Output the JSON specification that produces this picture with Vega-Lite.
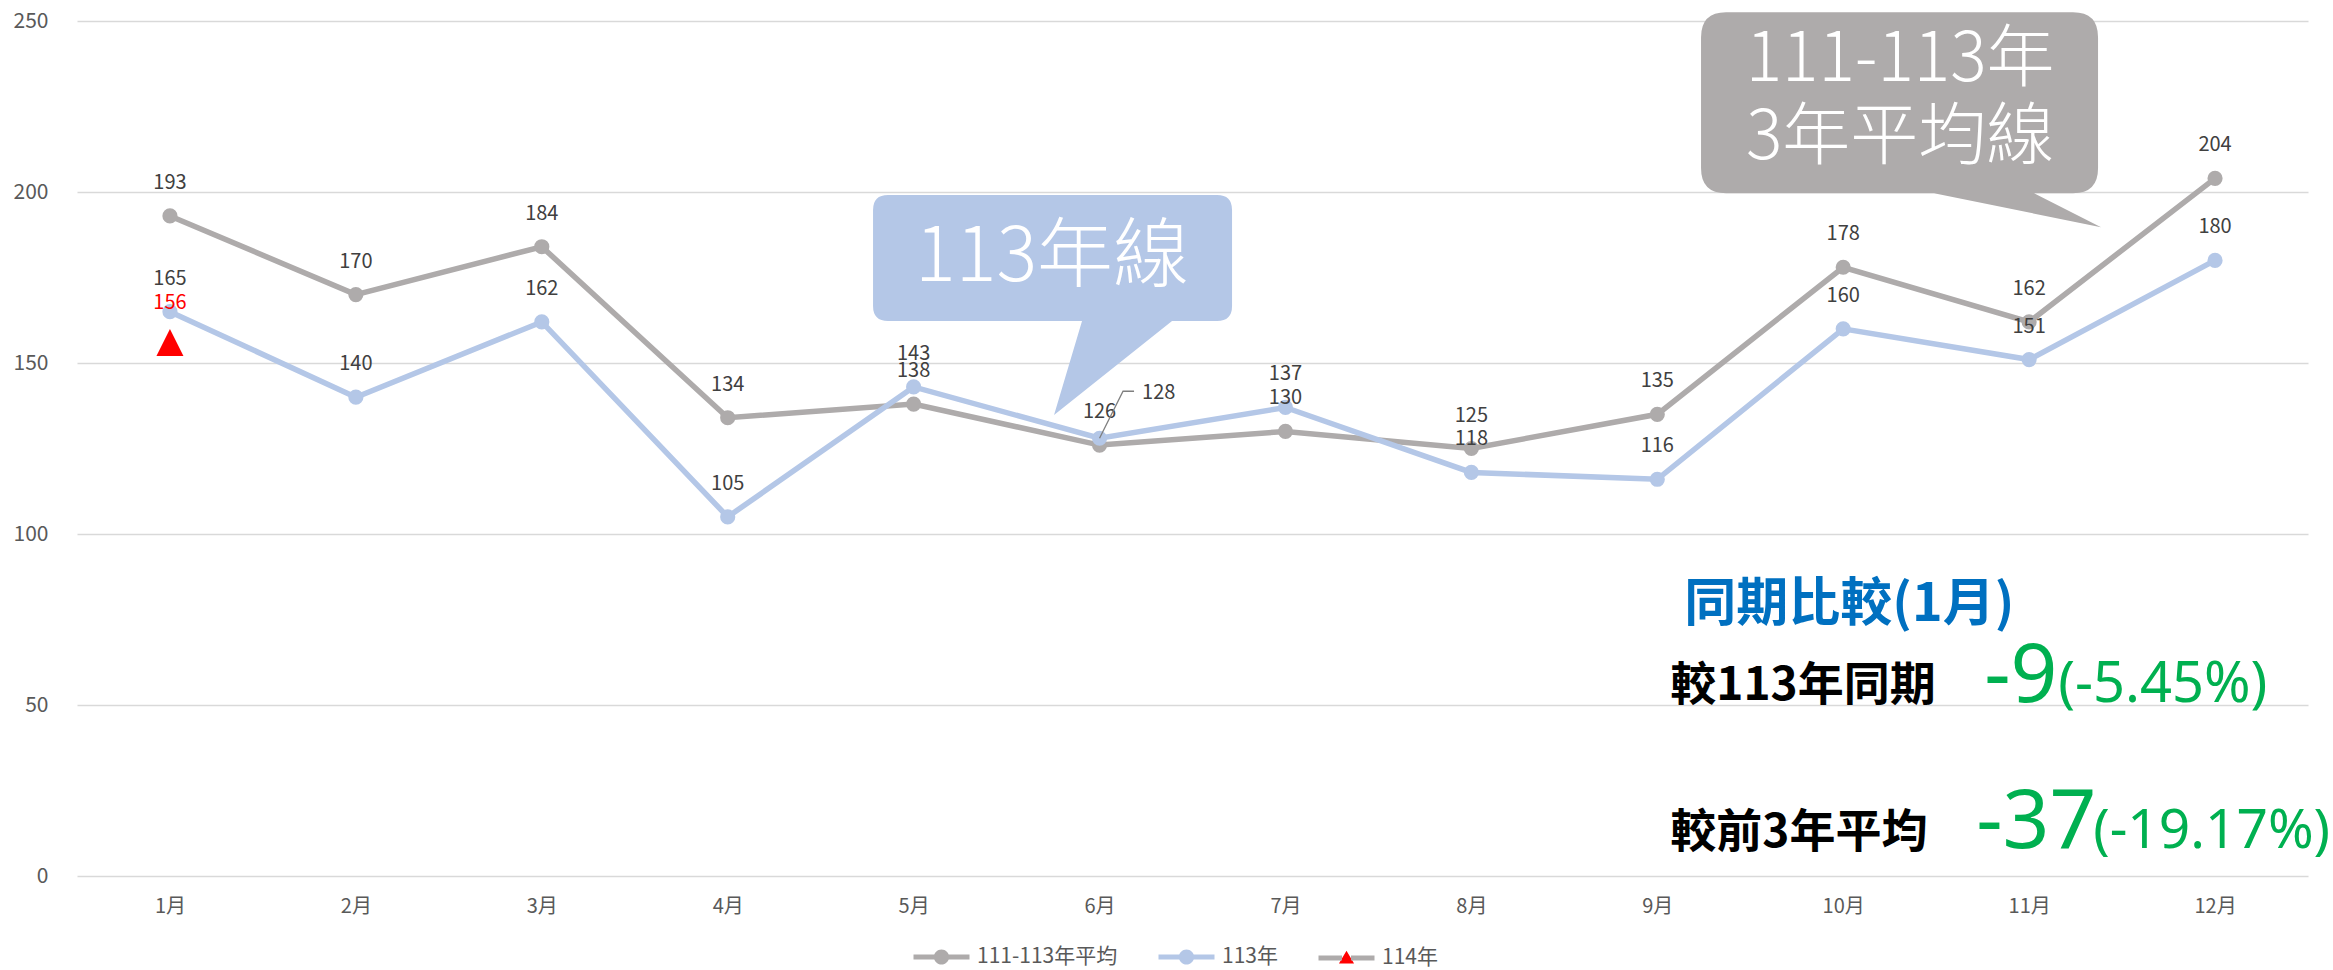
{
  "$schema": "https://vega.github.io/schema/vega-lite/v6.json",
  "width": 2231,
  "height": 855,
  "autosize": {"type": "none"},
  "padding": {"left": 77, "top": 21, "right": 25, "bottom": 94},
  "background": "white",
  "config": {"view": {"stroke": null}, "font": "Noto Sans CJK TC"},
  "datasets": {
    "monthly": [
      {"month": "1月", "series": "111-113年平均", "value": 193},
      {"month": "2月", "series": "111-113年平均", "value": 170},
      {"month": "3月", "series": "111-113年平均", "value": 184},
      {"month": "4月", "series": "111-113年平均", "value": 134},
      {"month": "5月", "series": "111-113年平均", "value": 138},
      {"month": "6月", "series": "111-113年平均", "value": 126},
      {"month": "7月", "series": "111-113年平均", "value": 130},
      {"month": "8月", "series": "111-113年平均", "value": 125},
      {"month": "9月", "series": "111-113年平均", "value": 135},
      {"month": "10月", "series": "111-113年平均", "value": 178},
      {"month": "11月", "series": "111-113年平均", "value": 162},
      {"month": "12月", "series": "111-113年平均", "value": 204},
      {"month": "1月", "series": "113年", "value": 165},
      {"month": "2月", "series": "113年", "value": 140},
      {"month": "3月", "series": "113年", "value": 162},
      {"month": "4月", "series": "113年", "value": 105},
      {"month": "5月", "series": "113年", "value": 143},
      {"month": "6月", "series": "113年", "value": 128},
      {"month": "7月", "series": "113年", "value": 137},
      {"month": "8月", "series": "113年", "value": 118},
      {"month": "9月", "series": "113年", "value": 116},
      {"month": "10月", "series": "113年", "value": 160},
      {"month": "11月", "series": "113年", "value": 151},
      {"month": "12月", "series": "113年", "value": 180},
      {"month": "1月", "series": "114年", "value": 156}
    ]
  },
  "layer": [
    {
      "data": {"name": "monthly"},
      "encoding": {
        "x": {
          "field": "month",
          "type": "ordinal",
          "sort": null,
          "scale": {"domain": ["1月", "2月", "3月", "4月", "5月", "6月", "7月", "8月", "9月", "10月", "11月", "12月"]},
          "axis": {"title": null, "labelAngle": 0, "domain": false, "ticks": false, "grid": false, "labelFontSize": 20, "labelColor": "#595959", "labelPadding": 20, "labelFont": "Noto Sans CJK TC"}
        },
        "y": {
          "field": "value",
          "type": "quantitative",
          "scale": {"domain": [0, 250], "nice": false},
          "axis": {"title": null, "domain": false, "ticks": false, "grid": true, "gridColor": "#D9D9D9", "gridWidth": 1.5, "values": [0, 50, 100, 150, 200, 250], "labelFontSize": 21, "labelColor": "#595959", "labelPadding": 29, "labelFont": "Noto Sans CJK TC"}
        }
      },
      "layer": [
        {
          "transform": [{"filter": "datum.series === '111-113年平均'"}],
          "mark": {"type": "line", "strokeWidth": 5.5},
          "encoding": {
            "stroke": {
              "field": "series",
              "type": "nominal",
              "scale": {"domain": ["111-113年平均", "113年", "114年"], "range": ["#AEABAB", "#B4C7E7", "#AEABAB"]},
              "legend": {
                "title": null,
                "orient": "none",
                "legendX": 834,
                "legendY": 905,
                "direction": "horizontal",
                "padding": 0,
                "symbolSize": 3136,
                "symbolStrokeWidth": 5,
                "symbolDash": [56, 2000],
                "symbolOpacity": 1,
                "symbolType": "M1,0L-1,0L1,0L0.27,0A0.27,0.27 0 1,0 -0.27,0A0.27,0.27 0 1,0 0.27,0L1,0Z",
                "labelFontSize": 21,
                "labelColor": "#595959",
                "labelFont": "Noto Sans CJK TC",
                "labelOffset": 5,
                "columnPadding": 30,
                "encode": {
                  "symbols": {
                    "update": {
                      "shape": {"signal": "datum.value === '114年' ? 'M1,0L-1,0L1,0L0.27,0.2L0,-0.26L-0.27,0.2L0.27,0.2L1,0Z' : 'M1,0L-1,0L1,0L0.27,0A0.27,0.27 0 1,0 -0.27,0A0.27,0.27 0 1,0 0.27,0L1,0Z'"},
                      "strokeDash": {"signal": "datum.value === '114年' ? [23.5, 9, 23.5, 2000] : [56, 2000]"},
                      "strokeWidth": {"value": 5},
                      "opacity": {"value": 1}
                    }
                  }
                }
              }
            }
          }
        },
        {
          "transform": [{"filter": "datum.series === '111-113年平均'"}],
          "mark": {"type": "point", "shape": "circle", "filled": true, "size": 230, "opacity": 1},
          "encoding": {
            "fill": {
              "field": "series",
              "type": "nominal",
              "scale": {"domain": ["111-113年平均", "113年", "114年"], "range": ["#AEABAB", "#B4C7E7", "#FF0000"]},
              "legend": {
                "title": null,
                "orient": "none",
                "legendX": 834,
                "legendY": 905,
                "direction": "horizontal",
                "padding": 0,
                "symbolSize": 3136,
                "symbolStrokeWidth": 5,
                "symbolDash": [56, 2000],
                "symbolOpacity": 1,
                "symbolType": "M1,0L-1,0L1,0L0.27,0A0.27,0.27 0 1,0 -0.27,0A0.27,0.27 0 1,0 0.27,0L1,0Z",
                "labelFontSize": 21,
                "labelColor": "#595959",
                "labelFont": "Noto Sans CJK TC",
                "labelOffset": 5,
                "columnPadding": 30,
                "encode": {
                  "symbols": {
                    "update": {
                      "shape": {"signal": "datum.value === '114年' ? 'M1,0L-1,0L1,0L0.27,0.2L0,-0.26L-0.27,0.2L0.27,0.2L1,0Z' : 'M1,0L-1,0L1,0L0.27,0A0.27,0.27 0 1,0 -0.27,0A0.27,0.27 0 1,0 0.27,0L1,0Z'"},
                      "strokeDash": {"signal": "datum.value === '114年' ? [23.5, 9, 23.5, 2000] : [56, 2000]"},
                      "strokeWidth": {"value": 5},
                      "opacity": {"value": 1}
                    }
                  }
                }
              }
            }
          }
        },
        {
          "transform": [{"filter": "datum.series === '113年'"}],
          "mark": {"type": "line", "strokeWidth": 5.5},
          "encoding": {"stroke": {"field": "series", "type": "nominal"}}
        },
        {
          "transform": [{"filter": "datum.series === '113年'"}],
          "mark": {"type": "point", "shape": "circle", "filled": true, "size": 230, "opacity": 1},
          "encoding": {"fill": {"field": "series", "type": "nominal"}}
        },
        {
          "transform": [{"filter": "datum.series === '114年'"}],
          "mark": {"type": "point", "shape": "M0,-1L1,1L-1,1Z", "filled": true, "size": 729, "opacity": 1},
          "encoding": {"fill": {"field": "series", "type": "nominal"}}
        },
        {
          "transform": [{"filter": "datum.series === '111-113年平均' || (datum.series === '113年' && datum.month !== '6月')"}],
          "mark": {"type": "text", "baseline": "middle", "align": "center", "dy": -33, "fontSize": 20, "color": "#404040", "font": "Noto Sans CJK TC"},
          "encoding": {"text": {"field": "value", "type": "quantitative"}}
        },
        {
          "transform": [{"filter": "datum.series === '114年'"}],
          "mark": {"type": "text", "baseline": "middle", "align": "center", "dy": -39, "fontSize": 20, "color": "#FF0000", "font": "Noto Sans CJK TC"},
          "encoding": {"text": {"field": "value", "type": "quantitative"}}
        },
        {
          "transform": [{"filter": "datum.series === '113年' && datum.month === '6月'"}],
          "mark": {"type": "text", "baseline": "middle", "align": "left", "dx": 42.5, "dy": -45, "fontSize": 20, "color": "#404040", "font": "Noto Sans CJK TC"},
          "encoding": {"text": {"field": "value", "type": "quantitative"}}
        },
        {
          "transform": [{"filter": "datum.series === '113年' && datum.month === '6月'"}],
          "mark": {"type": "point", "shape": "M0,0L23.5,-47L34.5,-47", "filled": false, "size": 4, "stroke": "#7F7F7F", "strokeWidth": 1.3, "opacity": 1}
        }
      ]
    },
    {
      "data": {"values": [{}]},
      "mark": {"type": "point", "shape": "M-489,-214L-142,-214Q-117,-214 -117,-189L-117,-58Q-117,-33 -142,-33L-181,-33L-114,1L-281,-33L-489,-33Q-514,-33 -514,-58L-514,-189Q-514,-214 -489,-214Z", "filled": true, "size": 4, "color": "#AEABAB", "opacity": 1, "strokeWidth": 0},
      "encoding": {"x": {"datum": "12月", "type": "ordinal"}, "y": {"datum": 190, "type": "quantitative"}}
    },
    {
      "data": {"values": [{}]},
      "mark": {"type": "point", "shape": "M-211.5,-220L117.5,-220Q132.5,-220 132.5,-205L132.5,-109Q132.5,-94 117.5,-94L72.5,-94L-45.5,0L-17.5,-94L-211.5,-94Q-226.5,-94 -226.5,-109L-226.5,-205Q-226.5,-220 -211.5,-220Z", "filled": true, "size": 4, "color": "#B4C7E7", "opacity": 1, "strokeWidth": 0},
      "encoding": {"x": {"datum": "6月", "type": "ordinal"}, "y": {"datum": 134.8, "type": "quantitative"}}
    },
    {
      "data": {"values": [{}]},
      "mark": {"type": "text", "text": "113年線", "align": "center", "baseline": "middle", "dx": -47.5, "fontSize": 76, "fontWeight": 300, "color": "#FFFFFF", "font": "Noto Sans CJK TC"},
      "encoding": {"x": {"datum": "6月", "type": "ordinal"}, "y": {"datum": 180.7, "type": "quantitative"}}
    },
    {
      "data": {"values": [{}]},
      "mark": {"type": "text", "text": "111-113年", "align": "center", "baseline": "middle", "dx": -129, "fontSize": 68, "fontWeight": 300, "color": "#FFFFFF", "font": "Noto Sans CJK TC"},
      "encoding": {"x": {"datum": "11月", "type": "ordinal"}, "y": {"datum": 238.3, "type": "quantitative"}}
    },
    {
      "data": {"values": [{}]},
      "mark": {"type": "text", "text": "3年平均線", "align": "center", "baseline": "middle", "dx": -129, "fontSize": 68, "fontWeight": 300, "color": "#FFFFFF", "font": "Noto Sans CJK TC"},
      "encoding": {"x": {"datum": "11月", "type": "ordinal"}, "y": {"datum": 215.5, "type": "quantitative"}}
    },
    {
      "data": {"values": [{}]},
      "mark": {"type": "text", "text": "同期比較(1月)", "align": "left", "baseline": "alphabetic", "dx": 27, "fontSize": 52, "fontWeight": "bold", "color": "#0070C0", "font": "Noto Sans CJK TC"},
      "encoding": {"x": {"datum": "9月", "type": "ordinal"}, "y": {"datum": 74.7, "type": "quantitative"}}
    },
    {
      "data": {"values": [{}]},
      "mark": {"type": "text", "text": "較113年同期", "align": "left", "baseline": "alphabetic", "dx": 13, "fontSize": 46, "fontWeight": "bold", "color": "#000000", "font": "Noto Sans CJK TC"},
      "encoding": {"x": {"datum": "9月", "type": "ordinal"}, "y": {"datum": 51.5, "type": "quantitative"}}
    },
    {
      "data": {"values": [{}]},
      "mark": {"type": "text", "text": "較前3年平均", "align": "left", "baseline": "alphabetic", "dx": 13, "fontSize": 46, "fontWeight": "bold", "color": "#000000", "font": "Noto Sans CJK TC"},
      "encoding": {"x": {"datum": "9月", "type": "ordinal"}, "y": {"datum": 8.5, "type": "quantitative"}}
    },
    {
      "data": {"values": [{}]},
      "mark": {"type": "text", "text": "-9", "align": "left", "baseline": "alphabetic", "dx": -45, "fontSize": 82, "color": "#00B050", "font": "Noto Sans"},
      "encoding": {"x": {"datum": "11月", "type": "ordinal"}, "y": {"datum": 50.9, "type": "quantitative"}}
    },
    {
      "data": {"values": [{}]},
      "mark": {"type": "text", "text": "(-5.45%)", "align": "left", "baseline": "alphabetic", "dx": 29, "fontSize": 56, "color": "#00B050", "font": "Noto Sans"},
      "encoding": {"x": {"datum": "11月", "type": "ordinal"}, "y": {"datum": 50.9, "type": "quantitative"}}
    },
    {
      "data": {"values": [{}]},
      "mark": {"type": "text", "text": "-37", "align": "left", "baseline": "alphabetic", "dx": -53, "fontSize": 82, "color": "#00B050", "font": "Noto Sans"},
      "encoding": {"x": {"datum": "11月", "type": "ordinal"}, "y": {"datum": 8.2, "type": "quantitative"}}
    },
    {
      "data": {"values": [{}]},
      "mark": {"type": "text", "text": "(-19.17%)", "align": "left", "baseline": "alphabetic", "dx": 64, "fontSize": 55, "color": "#00B050", "font": "Noto Sans"},
      "encoding": {"x": {"datum": "11月", "type": "ordinal"}, "y": {"datum": 8.2, "type": "quantitative"}}
    }
  ]
}
